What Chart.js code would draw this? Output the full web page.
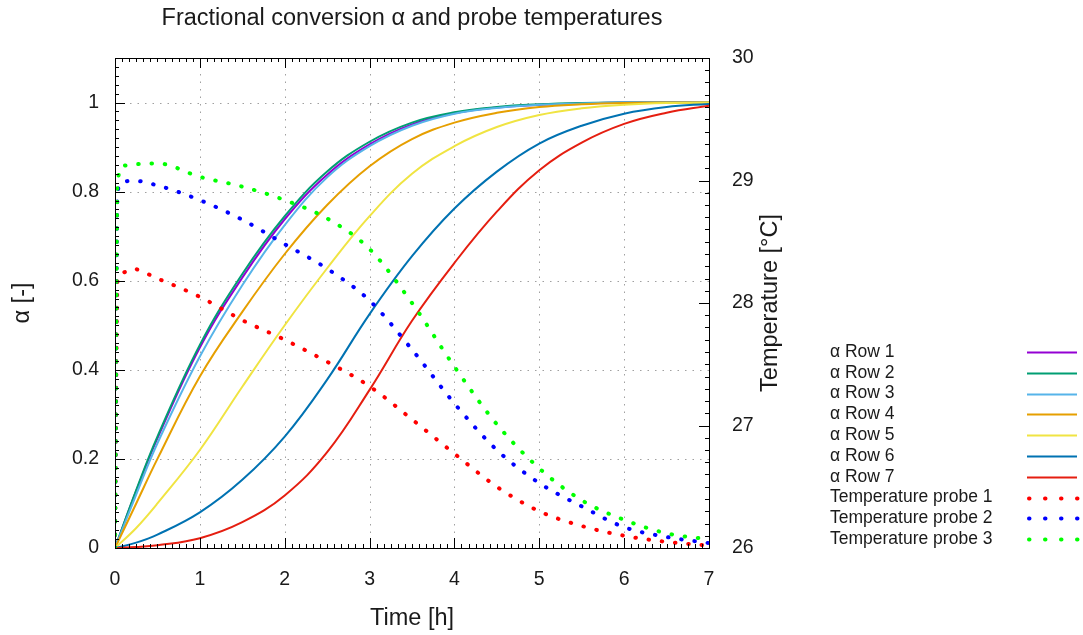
<!DOCTYPE html>
<html>
<head>
<meta charset="utf-8">
<script src="https://cdn.jsdelivr.net/npm/chart.js@4.4.1/dist/chart.umd.min.js"></script>
<style>
  html, body { margin: 0; padding: 0; background: #fff; }
</style>
</head>
<body>
<canvas id="chart" width="1083" height="635"></canvas>
<script>
// time axis of the conversion curves [h]
const alphaTime = [0, 0.25, 0.5, 1, 1.5, 2, 2.5, 3, 3.5, 4, 4.5, 5, 5.5, 6, 6.5, 7];
const alphaRow1 = [0, 0.128, 0.246, 0.45, 0.607, 0.738, 0.838, 0.906, 0.951, 0.976, 0.989, 0.995, 0.998, 1, 1, 1];
const alphaRow2 = [0, 0.13, 0.25, 0.456, 0.615, 0.745, 0.845, 0.912, 0.955, 0.978, 0.99, 0.996, 0.999, 1, 1, 1];
const alphaRow3 = [0, 0.12, 0.235, 0.43, 0.59, 0.725, 0.832, 0.902, 0.948, 0.975, 0.988, 0.995, 0.998, 1, 1, 1];
const alphaRow4 = [0, 0.1, 0.2, 0.385, 0.53, 0.66, 0.77, 0.857, 0.918, 0.955, 0.977, 0.99, 0.996, 0.999, 1, 1];
const alphaRow5 = [0, 0.045, 0.1, 0.22, 0.362, 0.5, 0.628, 0.745, 0.84, 0.902, 0.945, 0.972, 0.987, 0.995, 0.999, 1];
const alphaRow6 = [0, 0.012, 0.03, 0.08, 0.153, 0.25, 0.378, 0.525, 0.655, 0.762, 0.845, 0.908, 0.948, 0.975, 0.99, 0.997];
const alphaRow7 = [0, 0.002, 0.006, 0.022, 0.058, 0.118, 0.215, 0.355, 0.51, 0.64, 0.755, 0.848, 0.91, 0.952, 0.977, 0.993];

// probe temperatures [°C]
const probeTime = [0, 0.03, 0.1, 0.2, 0.5, 1, 1.5, 2, 2.5, 3, 3.5, 4, 4.5, 5, 5.5, 6, 6.5, 7];
const probe1 = [26.00, 28.18, 28.25, 28.28, 28.20, 28.05, 27.86, 27.70, 27.52, 27.32, 27.05, 26.77, 26.50, 26.30, 26.18, 26.10, 26.05, 26.02];
const probe2 = [26.00, 28.91, 28.99, 29.00, 28.96, 28.84, 28.68, 28.48, 28.28, 28.02, 27.62, 27.18, 26.80, 26.53, 26.34, 26.17, 26.09, 26.04];
const probe3 = [26.00, 28.98, 29.12, 29.13, 29.14, 29.03, 28.95, 28.84, 28.69, 28.44, 28.00, 27.48, 27.01, 26.65, 26.39, 26.23, 26.12, 26.07];

const rowLabels = ['α Row 1', 'α Row 2', 'α Row 3', 'α Row 4', 'α Row 5', 'α Row 6', 'α Row 7'];
const probeLabels = ['Temperature probe 1', 'Temperature probe 2', 'Temperature probe 3'];
const rowColors = ['#9400d3', '#009e73', '#56b4e9', '#e69f00', '#f0e442', '#0072b2', '#e51e10'];
const probeColors = ['#ff0000', '#0000ff', '#00ff00'];

const FONT = "'Liberation Sans', Arial, sans-serif";
const TEXT = '#1a1a1a';

function toPoints(xs, ys) {
  return xs.map((x, i) => ({ x: x, y: ys[i] }));
}

const datasets = [];
[alphaRow1, alphaRow2, alphaRow3, alphaRow4, alphaRow5, alphaRow6, alphaRow7].forEach((row, i) => {
  datasets.push({
    label: rowLabels[i],
    data: toPoints(alphaTime, row),
    borderColor: rowColors[i],
    borderWidth: 2,
    pointRadius: 0,
    tension: 0.4,
    yAxisID: 'y',
    order: 20 - i,
  });
});
[probe1, probe2, probe3].forEach((p, i) => {
  datasets.push({
    label: probeLabels[i],
    data: toPoints(probeTime, p),
    borderColor: probeColors[i],
    borderWidth: 4,
    borderDash: [0.5, 12.8],
    borderCapStyle: 'round',
    pointRadius: 0,
    cubicInterpolationMode: 'monotone',
    yAxisID: 'y2',
    order: 10 - i,
  });
});

// grid, frame, tics, titles and key drawn gnuplot-style
const gnuplotLook = {
  id: 'gnuplotLook',
  beforeDatasetsDraw(chart) {
    const { ctx, chartArea: a, scales } = chart;
    ctx.save();
    ctx.strokeStyle = '#a0a0a0';
    ctx.lineWidth = 1;
    ctx.setLineDash([1.5, 6]);
    for (let t = 1; t <= 6; t++) {
      const x = Math.round(scales.x.getPixelForValue(t)) + 0.5;
      ctx.beginPath(); ctx.moveTo(x, a.bottom); ctx.lineTo(x, a.top); ctx.stroke();
    }
    for (let v = 1; v <= 5; v++) {
      const y = Math.round(scales.y.getPixelForValue(v * 0.2)) + 0.5;
      ctx.beginPath(); ctx.moveTo(a.left, y); ctx.lineTo(a.right, y); ctx.stroke();
    }
    ctx.restore();
  },
  afterDatasetsDraw(chart) {
    const { ctx, chartArea: a, scales } = chart;
    ctx.save();
    ctx.strokeStyle = '#000';
    ctx.lineWidth = 1;
    ctx.setLineDash([]);
    const seg = (x1, y1, x2, y2) => { ctx.beginPath(); ctx.moveTo(x1, y1); ctx.lineTo(x2, y2); ctx.stroke(); };
    // x tics (bottom and top)
    for (let m = 0; m <= 84; m++) {
      const x = Math.round(scales.x.getPixelForValue(m / 12)) + 0.5;
      const len = m % 12 === 0 ? 10 : 4;
      seg(x, a.bottom, x, a.bottom - len);
      seg(x, a.top, x, a.top + len);
    }
    // alpha tics (left)
    for (let m = 0; m <= 55; m++) {
      const y = Math.round(scales.y.getPixelForValue(m * 0.02)) + 0.5;
      const len = m % 10 === 0 ? 10 : 4;
      seg(a.left, y, a.left + len, y);
    }
    // temperature tics (right)
    for (let m = 0; m <= 40; m++) {
      const y = Math.round(scales.y2.getPixelForValue(26 + m * 0.1)) + 0.5;
      const len = m % 10 === 0 ? 10 : 4;
      seg(a.right, y, a.right - len, y);
    }
    ctx.strokeRect(Math.round(a.left) + 0.5, Math.round(a.top) + 0.5,
      Math.round(a.right - a.left), Math.round(a.bottom - a.top));
    ctx.restore();
  },
  afterDraw(chart) {
    const { ctx, chartArea: a } = chart;
    ctx.save();
    ctx.fillStyle = TEXT;
    ctx.textBaseline = 'middle';
    ctx.textAlign = 'center';
    ctx.font = '23.5px ' + FONT;
    ctx.fillText('Fractional conversion α and probe temperatures', (a.left + a.right) / 2, 19);
    ctx.fillText('Time [h]', (a.left + a.right) / 2, 619);
    ctx.save();
    ctx.translate(23, (a.top + a.bottom) / 2);
    ctx.rotate(-Math.PI / 2);
    ctx.fillText('α [-]', 0, 0);
    ctx.restore();
    ctx.save();
    ctx.translate(771, (a.top + a.bottom) / 2);
    ctx.rotate(-Math.PI / 2);
    ctx.fillText('Temperature [°C]', 0, 0);
    ctx.restore();

    // key
    ctx.font = '17.5px ' + FONT;
    ctx.textAlign = 'left';
    chart.data.datasets.forEach((ds, i) => {
      const y = 352 + i * 20.8;
      ctx.fillStyle = TEXT;
      ctx.fillText(ds.label, 830, y);
      ctx.save();
      ctx.strokeStyle = ds.borderColor;
      ctx.lineWidth = ds.borderWidth;
      ctx.lineCap = ds.borderCapStyle || 'butt';
      ctx.setLineDash(ds.borderDash ? [0.5, 15.5] : []);
      ctx.beginPath();
      ctx.moveTo(ds.borderDash ? 1029 : 1027, Math.round(y) + 0.5);
      ctx.lineTo(ds.borderDash ? 1079 : 1077, Math.round(y) + 0.5);
      ctx.stroke();
      ctx.restore();
    });
    ctx.restore();
  }
};

const tickFont = { family: FONT, size: 19.5 };

new Chart(document.getElementById('chart'), {
  type: 'line',
  data: { datasets: datasets },
  options: {
    responsive: false,
    animation: false,
    devicePixelRatio: 1,
    layout: { padding: { top: 58, left: 0, right: 294, bottom: 0 } },
    plugins: {
      legend: { display: false },
      title: { display: false },
      tooltip: { enabled: false },
    },
    scales: {
      x: {
        type: 'linear',
        min: 0,
        max: 7,
        grid: { display: false },
        border: { display: false },
        ticks: { stepSize: 1, padding: 12, color: TEXT, font: tickFont, maxRotation: 0 },
        afterFit: (s) => { s.height = 87; },
      },
      y: {
        type: 'linear',
        position: 'left',
        min: 0,
        max: 1.1,
        grid: { display: false },
        border: { display: false },
        ticks: {
          stepSize: 0.2,
          includeBounds: false,
          padding: 8,
          color: TEXT,
          font: tickFont,
          callback: (v) => String(+v.toFixed(2)),
        },
        afterFit: (s) => { s.width = 115; },
      },
      y2: {
        type: 'linear',
        position: 'right',
        min: 26,
        max: 30,
        grid: { display: false },
        border: { display: false },
        ticks: { stepSize: 1, padding: 15, color: TEXT, font: tickFont },
        afterFit: (s) => { s.width = 80; },
      },
    },
  },
  plugins: [gnuplotLook],
});
</script>
</body>
</html>
